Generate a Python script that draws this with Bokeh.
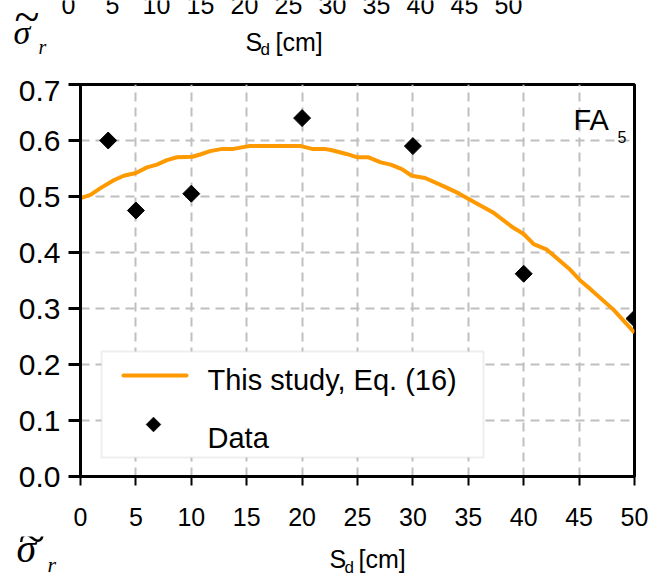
import numpy as np
from bokeh.plotting import figure
from bokeh.layouts import column
from bokeh.models import (Range1d, FixedTicker, PrintfTickFormatter, Label,
                          BoxAnnotation, PolyAnnotation)
from bokeh.embed import file_html
from bokeh.resources import INLINE

# Measured residual stress ratio vs. spacing S_d
sd_data = [2.5, 5, 10, 20, 30, 40, 50]
sigma_data = [0.60, 0.475, 0.505, 0.64, 0.59, 0.362, 0.282]

# Model curve, Eq. (16)
sd_curve = [0, 0.9, 1.8, 3.0, 3.9, 5.0, 6.0, 6.9, 7.8, 8.7, 10.1, 10.8, 11.7,
            12.8, 13.8, 15.2, 19.9, 20.9, 22.0, 22.6, 24.0, 25.0, 26.0, 27.1,
            28.0, 29.0, 29.9, 31.1, 32.8, 34.1, 35.8, 37.2, 39.0, 40.0, 40.9,
            42.1, 44.1, 45.1, 46.0, 48.1, 50.0]
sigma_curve = [0.497, 0.503, 0.515, 0.529, 0.537, 0.542, 0.552, 0.557, 0.565,
               0.570, 0.571, 0.575, 0.581, 0.585, 0.585, 0.590, 0.590, 0.585,
               0.585, 0.583, 0.576, 0.570, 0.570, 0.561, 0.557, 0.549, 0.537,
               0.533, 0.518, 0.506, 0.487, 0.472, 0.445, 0.433, 0.415, 0.405,
               0.371, 0.350, 0.335, 0.298, 0.257]

x_ticks = [0, 5, 10, 15, 20, 25, 30, 35, 40, 45, 50]
y_ticks = [0.0, 0.1, 0.2, 0.3, 0.4, 0.5, 0.6, 0.7]

series_label = "This study, Eq. (16)"
data_label = "Data"
panel_label = "FA"
panel_sub = "5"
x_title, x_title_sub, x_unit = "S", "d", "[cm]"
y_symbol, y_tilde, y_sub = "\u03c3", "~", "r"

ORANGE = "#FF9900"
GRID = "#BFBFBF"
SANS = "Liberation Sans"
SERIF = "Liberation Serif"
MID = {SANS: 0.346, SERIF: 0.338}   # em-box middle above the baseline

W, H = 662, 581
STRIP_H = 80              # strip above the chart
MAIN_TOP = STRIP_H
LEFT, RIGHT, TOP, BOTTOM = 80, 634, 84, 476   # frame edges on the page
MAIN_BOTTOM = 536
FOOT_H = H - MAIN_BOTTOM


def blank(height):
    """A figure whose frame fills it entirely, used to hold free text."""
    f = figure(width=W, height=height, x_range=Range1d(0, W), y_range=Range1d(0, height),
               output_backend="svg", toolbar_location=None, title=None,
               x_axis_location=None, y_axis_location=None, frame_align=False,
               min_border_left=0, min_border_right=0, min_border_top=0, min_border_bottom=0)
    f.grid.visible = False
    f.outline_line_color = None
    f.background_fill_color = "white"
    f.border_fill_color = "white"
    return f


def label(fig, x0, y0, cx, cy, s, size, font=SANS, style="normal", align="left"):
    """Text whose baseline starts at page pixel (cx, cy); (x0, y0) is the
    page position of the figure frame's bottom-left corner."""
    fig.add_layout(Label(x=cx - x0, y=(y0 - cy) + MID[font] * size,
                         x_units="screen", y_units="screen",
                         text=s, text_font=font, text_font_size=f"{size}px",
                         text_font_style=style, text_color="black",
                         text_align=align, text_baseline="alphabetic"))


# ---------------- main chart ----------------
p = figure(width=W, height=MAIN_BOTTOM - MAIN_TOP,
           x_range=Range1d(0, 50), y_range=Range1d(0, 0.7),
           output_backend="svg", toolbar_location=None, title=None, frame_align=False,
           min_border_left=LEFT, min_border_right=W - RIGHT,
           min_border_top=TOP - MAIN_TOP, min_border_bottom=MAIN_BOTTOM - BOTTOM)
p.background_fill_color = "white"
p.border_fill_color = "white"
p.outline_line_color = "black"
p.outline_line_width = 3

p.xaxis.ticker = FixedTicker(ticks=x_ticks)
p.yaxis.ticker = FixedTicker(ticks=y_ticks)
p.yaxis.formatter = PrintfTickFormatter(format="%.1f")
for ax in (p.xaxis[0], p.yaxis[0]):
    ax.axis_line_color = "black"
    ax.axis_line_width = 3
    ax.major_tick_line_color = "black"
    ax.major_tick_in = 0
    ax.minor_tick_line_color = None
    ax.major_label_text_font = SANS
    ax.major_label_text_color = "black"
p.xaxis.major_tick_out = 9
p.xaxis.major_tick_line_width = 2
p.xaxis.major_label_text_font_size = "25px"
p.xaxis.major_label_standoff = 22
p.yaxis.major_tick_out = 12
p.yaxis.major_tick_line_width = 3
p.yaxis.major_label_text_font_size = "30px"
p.yaxis.major_label_standoff = 8

for g in (p.xgrid[0], p.ygrid[0]):
    g.grid_line_color = GRID
    g.grid_line_width = 2
    g.grid_line_dash = "9 6"

p.line(sd_curve, sigma_curve, line_color=ORANGE, line_width=4)
p.scatter(sd_data, sigma_data, marker="square", angle=np.pi / 4, size=12,
          fill_color="black", line_color="black")


def fx(cx):
    return cx - LEFT


def fy(cy):
    return BOTTOM - cy


# panel tag
label(p, LEFT, BOTTOM, 573, 130, panel_label, 29)
label(p, LEFT, BOTTOM, 617, 142, panel_sub, 16)

# legend
p.add_layout(BoxAnnotation(left=fx(101), right=fx(483), top=fy(351), bottom=fy(457),
                           left_units="screen", right_units="screen",
                           top_units="screen", bottom_units="screen",
                           fill_color="white", fill_alpha=1.0,
                           line_color="#C8C8C8", line_width=2))
p.add_layout(BoxAnnotation(left=fx(121), right=fx(188), top=fy(373), bottom=fy(377),
                           left_units="screen", right_units="screen",
                           top_units="screen", bottom_units="screen",
                           fill_color=ORANGE, fill_alpha=1.0, line_alpha=0,
                           border_radius=2))
dcx, dcy, dr = 153, 424, 7.5
p.add_layout(PolyAnnotation(xs=[fx(dcx - dr), fx(dcx), fx(dcx + dr), fx(dcx)],
                            ys=[fy(dcy), fy(dcy - dr), fy(dcy), fy(dcy + dr)],
                            xs_units="screen", ys_units="screen",
                            fill_color="black", fill_alpha=1.0, line_color="black"))
label(p, LEFT, BOTTOM, 207, 390, series_label, 29)
label(p, LEFT, BOTTOM, 207, 448, data_label, 29)

# ---------------- strip above: tail of the neighbouring panel's axis ----------------
top = blank(STRIP_H)
top_tick_x = [68, 112, 156, 200, 244, 288, 332, 376, 420, 464, 508]
for cx, t in zip(top_tick_x, x_ticks):
    label(top, 0, STRIP_H, cx, 13, str(t), 25, align="center")
label(top, 0, STRIP_H, 245, 50, x_title, 25)
label(top, 0, STRIP_H, 260, 55, x_title_sub, 17)
label(top, 0, STRIP_H, 275, 50, x_unit, 25)
label(top, 0, STRIP_H, 13, 43, y_symbol, 34, font=SERIF, style="italic")
label(top, 0, STRIP_H, 14, 32, y_tilde, 46, font=SERIF)
label(top, 0, STRIP_H, 38, 53, y_sub, 20, font=SERIF, style="italic")

# ---------------- foot: axis titles under the chart ----------------
foot = blank(FOOT_H)
label(foot, 0, H, 329, 567, x_title, 25)
label(foot, 0, H, 344, 573, x_title_sub, 17)
label(foot, 0, H, 358, 567, x_unit, 25)
label(foot, 0, H, 16, 562, y_symbol, 40, font=SERIF, style="italic")
label(foot, 0, H, 18, 553, y_tilde, 50, font=SERIF)
label(foot, 0, H, 47, 571, y_sub, 22, font=SERIF, style="italic")

layout = column(top, p, foot, spacing=0)
open("out.html", "w").write(file_html(layout, INLINE))
